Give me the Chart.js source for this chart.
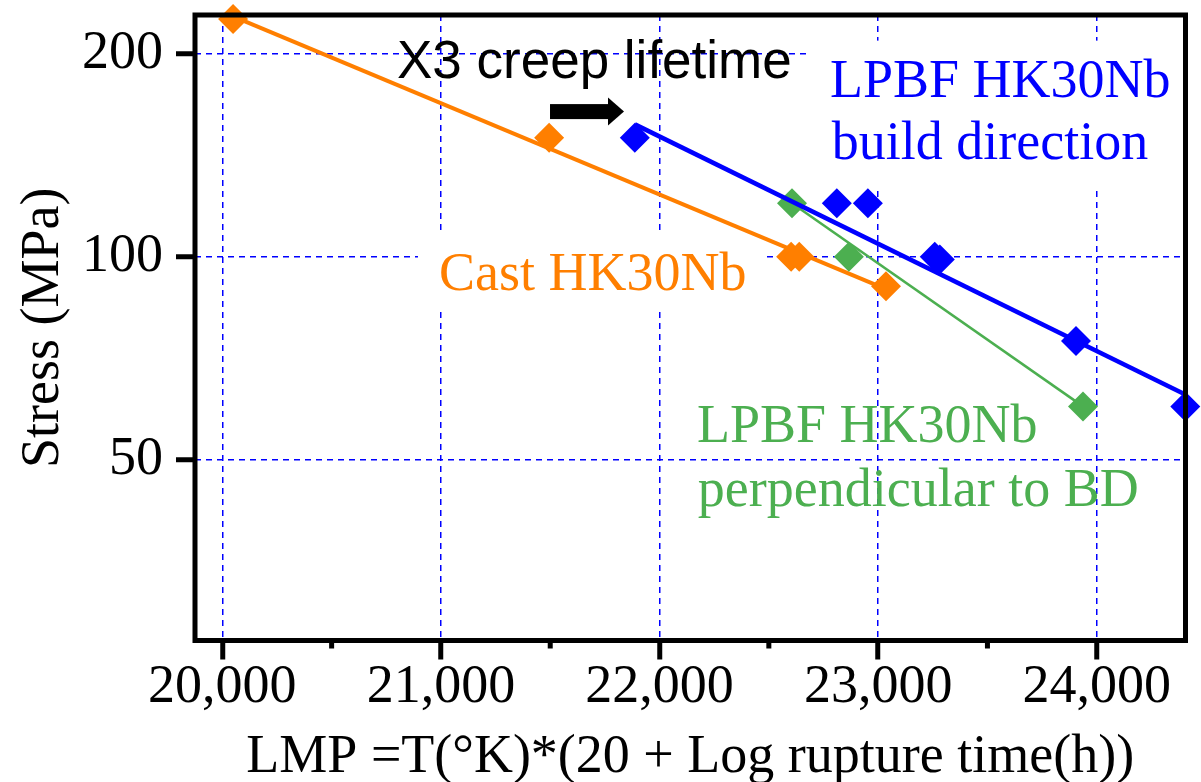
<!DOCTYPE html>
<html>
<head>
<meta charset="utf-8">
<script src="https://cdn.jsdelivr.net/npm/chart.js@4.4.0/dist/chart.umd.min.js"></script>
<style>
  html, body { margin: 0; padding: 0; background: #fff; }
  #chart { display: block; }
</style>
</head>
<body>
<canvas id="chart" width="1201" height="782"></canvas>
<script>
// axis ticks
const xTicks = [20000, 21000, 22000, 23000, 24000];
const xMinorTicks = [20500, 21500, 22500, 23500];
const yTicks = [50, 100, 200];

// measured rupture points: LMP vs stress (MPa)
const castLmp = [20049, 21495, 22602, 22639, 23036];
const castStress = [225, 150, 100, 100, 90.4];
const bdLmp = [21887, 22811, 22953, 23259, 23282, 23905, 24405];
const bdStress = [150, 120, 120, 100, 99, 75, 60];
const perpLmp = [22606, 22866, 23937];
const perpStress = [120, 100, 60];

// trend lines (end points)
const castFitLmp = [20049, 23036];
const castFitStress = [227, 89.5];
const bdFitLmp = [21887, 24405];
const bdFitStress = [157, 62.5];
const perpFitLmp = [22606, 23937];
const perpFitStress = [120, 60];

const ORANGE = '#ff7f00', BLUE = '#0000ff', GREEN = '#4caf50';
const SERIF = '"Liberation Serif", "Times New Roman", serif';

// text notes, anchored in data coords (left / baseline)
const notes = [
  { text: 'X3 creep lifetime', lmp: 20799, stress: 184.2, color: '#000', font: '53px "Liberation Sans", Arial, sans-serif' },
  { text: 'LPBF HK30Nb', lmp: 22780, stress: 172.4, color: BLUE, font: '54px ' + SERIF },
  { text: 'build direction', lmp: 22788, stress: 139.3, color: BLUE, font: '54px ' + SERIF },
  { text: 'Cast HK30Nb', lmp: 20991, stress: 89.1, color: ORANGE, font: '54px ' + SERIF },
  { text: 'LPBF HK30Nb', lmp: 22171, stress: 53.1, color: GREEN, font: '54px ' + SERIF },
  { text: 'perpendicular to BD', lmp: 22175, stress: 42.7, color: GREEN, font: '54px ' + SERIF },
];
// white boxes behind two of the notes [lmp0, lmp1, stressTop, stressBottom]
const noteBoxes = [
  [20895, 22482, 109.3, 83.3],
  [22688, null, 208.9, 125.9],
];
const arrowAt = { lmp: 21499, stress: 164 };

const pts = (xs, ys) => xs.map((v, i) => ({ x: v, y: ys[i] }));

const decor = {
  id: 'decor',
  beforeDatasetsDraw(chart) {
    const { ctx, scales: { x, y } } = chart;
    ctx.save();
    ctx.fillStyle = '#fff';
    noteBoxes.forEach(b => {
      const x0 = x.getPixelForValue(b[0]);
      const x1 = x.getPixelForValue(b[1] == null ? x.max : b[1]);
      const y0 = y.getPixelForValue(b[2]), y1 = y.getPixelForValue(b[3]);
      ctx.fillRect(x0, y0, x1 - x0, y1 - y0);
    });
    ctx.textAlign = 'left';
    ctx.textBaseline = 'alphabetic';
    notes.forEach(n => {
      ctx.font = n.font;
      ctx.fillStyle = n.color;
      ctx.fillText(n.text, x.getPixelForValue(n.lmp), y.getPixelForValue(n.stress));
    });
    // arrow
    const ax = x.getPixelForValue(arrowAt.lmp), ay = y.getPixelForValue(arrowAt.stress);
    ctx.fillStyle = '#000';
    ctx.fillRect(ax, ay - 7.5, 59, 15);
    ctx.beginPath();
    ctx.moveTo(ax + 58, ay - 14);
    ctx.lineTo(ax + 74, ay);
    ctx.lineTo(ax + 58, ay + 14);
    ctx.closePath();
    ctx.fill();
    ctx.restore();
  },
  afterDatasetsDraw(chart) {
    const { ctx, chartArea: a, scales: { x } } = chart;
    ctx.save();
    ctx.strokeStyle = '#000';
    ctx.lineWidth = 5;
    ctx.strokeRect(a.left, a.top, a.right - a.left, a.bottom - a.top);
    ctx.beginPath();
    xMinorTicks.forEach(v => {
      const px = x.getPixelForValue(v);
      ctx.moveTo(px, a.bottom);
      ctx.lineTo(px, a.bottom + 8);
    });
    ctx.stroke();
    ctx.restore();
  }
};

const tickFont = { family: SERIF, size: 54, lineHeight: 1 };
const titleFont = { family: SERIF, size: 54, lineHeight: 0.907 };

new Chart(document.getElementById('chart'), {
  type: 'scatter',
  data: {
    datasets: [
      { data: pts(bdLmp, bdStress), pointStyle: 'rectRot', pointRadius: 15, backgroundColor: BLUE, borderWidth: 0, clip: false },
      { data: pts(bdFitLmp, bdFitStress), showLine: true, pointRadius: 0, borderColor: BLUE, borderWidth: 4.5, clip: false },
      { data: pts(perpLmp, perpStress), pointStyle: 'rectRot', pointRadius: 15, backgroundColor: GREEN, borderWidth: 0, clip: false },
      { data: pts(perpFitLmp, perpFitStress), showLine: true, pointRadius: 0, borderColor: GREEN, borderWidth: 2.5, clip: false },
      { data: pts(castLmp, castStress), pointStyle: 'rectRot', pointRadius: 15, backgroundColor: ORANGE, borderWidth: 0, clip: false },
      { data: pts(castFitLmp, castFitStress), showLine: true, pointRadius: 0, borderColor: ORANGE, borderWidth: 4, clip: false },
    ]
  },
  options: {
    responsive: false,
    animation: false,
    events: [],
    devicePixelRatio: 1,
    layout: { padding: { top: 9, right: 15.5, left: 0, bottom: 0 } },
    plugins: { legend: { display: false }, tooltip: { enabled: false } },
    scales: {
      x: {
        type: 'linear', min: 19875, max: 24406,
        afterBuildTicks: s => { s.ticks = xTicks.map(v => ({ value: v })); },
        afterFit: s => { s.height = 141.5; s.paddingLeft = 0; s.paddingRight = 0; },
        grid: { color: BLUE, lineWidth: 1.5, tickColor: '#000', tickWidth: 5, tickLength: 19, tickBorderDash: [] },
        border: { display: false, dash: [6, 5] },
        ticks: { font: tickFont, color: '#000', padding: 1, autoSkip: false, maxRotation: 0, callback: v => v.toLocaleString('en-US') },
        title: { display: true, text: 'LMP =T(°K)*(20 + Log rupture time(h))', font: titleFont, color: '#000', padding: { top: 0, bottom: 0 } }
      },
      y: {
        type: 'logarithmic', min: 27, max: 228,
        afterBuildTicks: s => { s.ticks = yTicks.map(v => ({ value: v })); },
        afterFit: s => { s.width = 195; s.paddingTop = 0; s.paddingBottom = 0; },
        grid: { color: BLUE, lineWidth: 1.5, tickColor: '#000', tickWidth: 5, tickLength: 19, tickBorderDash: [] },
        border: { display: false, dash: [6, 5] },
        ticks: { font: tickFont, color: '#000', padding: 13, autoSkip: false, callback: v => String(v) },
        title: { display: true, text: 'Stress (MPa)', font: titleFont, color: '#000', padding: { top: 19, bottom: 0 } }
      }
    }
  },
  plugins: [decor]
});
</script>
</body>
</html>
